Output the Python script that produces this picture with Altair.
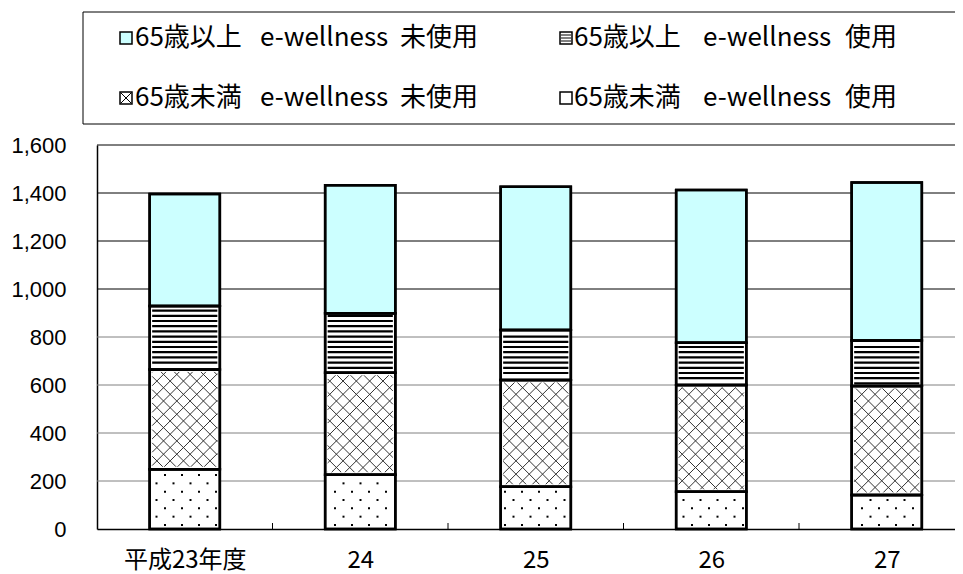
import json
import altair as alt
import pandas as pd

# ---------------- data ----------------
categories = ["平成23年度", "24", "25", "26", "27"]
under65_used = [249, 226, 176, 155, 142]      # 65歳未満 e-wellness 使用 (dots)
under65_unused = [416, 425, 445, 445, 454]    # 65歳未満 e-wellness 未使用 (cross hatch)
over65_used = [264, 248, 208, 176, 189]       # 65歳以上 e-wellness 使用 (horizontal lines)
over65_unused = [467, 533, 597, 636, 659]     # 65歳以上 e-wellness 未使用 (cyan)

series_names = [
    "65歳未満 e-wellness 使用",
    "65歳未満 e-wellness 未使用",
    "65歳以上 e-wellness 使用",
    "65歳以上 e-wellness 未使用",
]
series_values = [under65_used, under65_unused, over65_used, over65_unused]
y_ticks = [0, 200, 400, 600, 800, 1000, 1200, 1400, 1600]

# ---------------- layout ----------------
W, H = 858, 384
BAND = 175.5           # px per category
YMAX = 1600
PXU = H / YMAX         # px per unit
BAR_HALF = 0.2         # half bar width in band units
FILL_RANGE = ["white", "white", "white", "#CCFFFF"]

# stacked segments
rows = []
for i, cat in enumerate(categories):
    base = 0
    for s, vals in zip(series_names, series_values):
        v = vals[i]
        rows.append(dict(cat=cat, series=s, x=i + 0.5 - BAR_HALF, x2=i + 0.5 + BAR_HALF,
                         y=base, y2=base + v))
        base += v
seg = pd.DataFrame(rows)


def px_rect(r, inset):
    return (r.x * BAND + inset, r.x2 * BAND - inset, r.y * PXU + inset, r.y2 * PXU - inset)


# patterns (computed in px, converted to data units)
dots, hl, cr = [], [], []
for _, r in seg.iterrows():
    x0, x1, y0, y1 = px_rect(r, 2.5)
    if r.series == series_names[0]:
        k = 0
        yp = 4.0
        while yp < y1:
            if yp > y0:
                off = (k % 2) * 8.5
                xp = off
                while xp < x1:
                    if xp > x0:
                        dots.append(dict(x=xp / BAND, y=yp / PXU))
                    xp += 17
            yp += 8.33
            k += 1
    elif r.series == series_names[2]:
        yp = 0.0
        while yp < y1:
            if yp > y0:
                hl.append(dict(x=x0 / BAND, x2=x1 / BAND, y=yp / PXU))
            yp += 5.2
    elif r.series == series_names[1]:
        step = 13.3
        c = -2000.0
        while c < 3000:
            # y = x + c
            lo, hi = max(x0, y0 - c), min(x1, y1 - c)
            if lo < hi:
                cr.append(dict(x=lo / BAND, x2=hi / BAND, y=(lo + c) / PXU, y2=(hi + c) / PXU))
            # y = -x + c
            lo, hi = max(x0, c - y1), min(x1, c - y0)
            if lo < hi:
                cr.append(dict(x=lo / BAND, x2=hi / BAND, y=(c - lo) / PXU, y2=(c - hi) / PXU))
            c += step
dots = pd.DataFrame(dots)
hl = pd.DataFrame(hl)
cr = pd.DataFrame(cr)

# ---------------- scales / axes ----------------
label_expr = json.dumps(categories, ensure_ascii=False) + "[floor(datum.value)]"
XS = alt.Scale(domain=[0, W / BAND], nice=False, zero=False)
YS = alt.Scale(domain=[0, YMAX], nice=False, zero=True)
X_AX = alt.Axis(values=[i + 0.5 for i in range(len(categories))], labelExpr=label_expr,
                title=None, grid=False, ticks=False, labelPadding=31, labelBaseline="middle",
                labelFont="Noto Sans CJK JP", labelFontSize=24, labelColor="black",
                domainColor="black", domainWidth=1.5, labelOverlap=False, labelFlush=False)
Y_AX = alt.Axis(values=y_ticks, format=",.0f", title=None, grid=False, ticks=False,
                labelPadding=31, labelFont="Liberation Sans", labelFontSize=22,
                labelColor="black", domainColor="black", domainWidth=1.5)
FILL = alt.Color("series:N", scale=alt.Scale(domain=series_names, range=FILL_RANGE), legend=None)

# gridlines
grid_df = pd.DataFrame({"v": y_ticks[1:]})
grid = alt.Chart(grid_df).mark_rule(strokeWidth=1).encode(
    y=alt.Y("v:Q", scale=YS, axis=Y_AX),
    x=alt.value(0), x2=alt.value(W),
    color=alt.condition("datum.v >= 1000", alt.value("black"), alt.value("#808080")),
)

bars = alt.Chart(seg).mark_rect(stroke="black", strokeWidth=2.5).encode(
    x=alt.X("x:Q", scale=XS, axis=X_AX), x2="x2:Q",
    y=alt.Y("y:Q", scale=YS, axis=Y_AX), y2="y2:Q",
    fill=FILL,
)
hl_layer = alt.Chart(hl).mark_rule(color="black", strokeWidth=2.2).encode(
    x=alt.X("x:Q", scale=XS, axis=X_AX), x2="x2:Q", y=alt.Y("y:Q", scale=YS, axis=Y_AX))
cr_layer = alt.Chart(cr).mark_rule(color="#333333", strokeWidth=1).encode(
    x=alt.X("x:Q", scale=XS, axis=X_AX), x2="x2:Q",
    y=alt.Y("y:Q", scale=YS, axis=Y_AX), y2="y2:Q")
dot_layer = alt.Chart(dots).mark_square(size=4, color="black", opacity=1).encode(
    x=alt.X("x:Q", scale=XS, axis=X_AX), y=alt.Y("y:Q", scale=YS, axis=Y_AX))
outline = alt.Chart(seg).mark_rect(stroke="black", strokeWidth=2.5, fillOpacity=0).encode(
    x=alt.X("x:Q", scale=XS, axis=X_AX), x2="x2:Q",
    y=alt.Y("y:Q", scale=YS, axis=Y_AX), y2="y2:Q")

# category boundary ticks
tick_df = pd.DataFrame({"b": list(range(1, len(categories)))})
ticks = alt.Chart(tick_df).mark_rule(color="black", strokeWidth=1).encode(
    x=alt.X("b:Q", scale=XS, axis=X_AX), y=alt.value(H - 6), y2=alt.value(H))

# ---------------- legend (drawn in pixel space) ----------------
box = alt.Chart(pd.DataFrame({"a": [0]})).mark_rect(fill="white", stroke="black", strokeWidth=1).encode(
    x=alt.value(-14), x2=alt.value(W + 20), y=alt.value(-133), y2=alt.value(-21))

# legend order: (series index, column, row)
legend_order = [(3, 0, 0), (2, 1, 0), (1, 0, 1), (0, 1, 1)]
col_sw = [23, 463]
col_text = [[38, 163, 303], [477, 606, 748]]
row_y = [-107, -47]
SW = 12

sw_rows, txt_rows, swl_rows = [], [], []
for si, c, rr in legend_order:
    name = series_names[si]
    sx, sy = col_sw[c], row_y[rr]
    sw_rows.append(dict(series=name, px=sx, px2=sx + SW, py=sy - SW / 2, py2=sy + SW / 2))
    for piece, tx in zip(name.split(" "), col_text[c]):
        txt_rows.append(dict(t=piece, px=tx, py=sy))
    if si == 2:
        for d in (-3, 0, 3):
            swl_rows.append(dict(px=sx + 1, px2=sx + SW - 1, py=sy + d, py2=sy + d))
    if si == 1:
        swl_rows.append(dict(px=sx + 1, px2=sx + SW - 1, py=sy - SW / 2 + 1, py2=sy + SW / 2 - 1))
        swl_rows.append(dict(px=sx + 1, px2=sx + SW - 1, py=sy + SW / 2 - 1, py2=sy - SW / 2 + 1))

PX = lambda f: alt.X(f, scale=None, axis=None)
PY = lambda f: alt.Y(f, scale=None, axis=None)

sw = alt.Chart(pd.DataFrame(sw_rows)).mark_rect(stroke="black", strokeWidth=1.5).encode(
    x=PX("px:Q"), x2="px2:Q", y=PY("py:Q"), y2="py2:Q", fill=FILL)
swl = alt.Chart(pd.DataFrame(swl_rows)).mark_rule(color="black", strokeWidth=1).encode(
    x=PX("px:Q"), x2="px2:Q", y=PY("py:Q"), y2="py2:Q")
txt = alt.Chart(pd.DataFrame(txt_rows)).mark_text(
    align="left", baseline="middle", font="Noto Sans CJK JP", fontSize=26, color="black").encode(
    x=PX("px:Q"), y=PY("py:Q"), text="t:N")

chart = alt.layer(grid, bars, hl_layer, cr_layer, dot_layer, outline, ticks, box, sw, swl, txt).properties(
    width=W, height=H,
    autosize=alt.AutoSizeParams(type="none"),
    padding={"left": 89, "top": 137, "right": 0, "bottom": 45},
).configure_view(strokeWidth=0)

chart.save("out.html", embed_options={"renderer": "svg", "actions": False})
